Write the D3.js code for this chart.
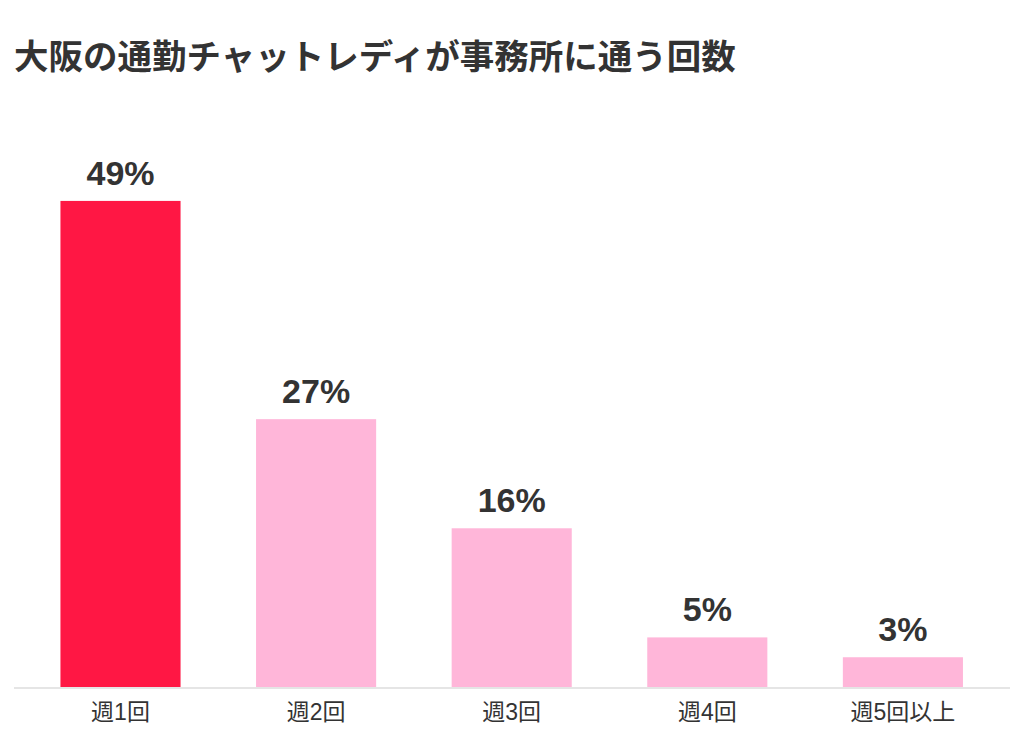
<!DOCTYPE html>
<html>
<head>
<meta charset="utf-8">
<script src="https://cdn.jsdelivr.net/npm/d3@7"></script>
<style>
  body { margin: 0; background: #fff; }
</style>
</head>
<body>
<svg id="chart" width="1024" height="740"></svg>
<script>
// données
const categories = ["週1回", "週2回", "週3回", "週4回", "週5回以上"]
const values = [49, 27, 16, 5, 3]
const labels = ["49%", "27%", "16%", "5%", "3%"]
const highlight = "週1回"

const baseline = 687

const svg = d3.select("#chart")

// titre
svg.append("text")
  .attr("x", 14)
  .attr("y", 69)
  .style("font-family", "'Noto Sans CJK JP', sans-serif")
  .style("font-weight", "bold")
  .style("font-size", "34.5px")
  .style("fill", "#333")
  .text("大阪の通勤チャットレディが事務所に通う回数")

const x = d3.scaleBand()
  .domain(categories)
  .range([22.7, 1000.7])
  .paddingInner(0.386)
  .paddingOuter(0.193)

const y = d3.scaleLinear()
  .domain([0, 50])
  .range([baseline, baseline - 496])

// barres
svg.append("g")
  .selectAll("rect")
  .data(categories)
  .enter()
  .append("rect")
  .attr("x", d => x(d))
  .attr("width", x.bandwidth())
  .attr("y", (d, i) => y(values[i]))
  .attr("height", (d, i) => baseline - y(values[i]))
  .style("fill", d => d === highlight ? "#ff1744" : "#ffb6d9")

// valeurs
svg.append("g")
  .selectAll("text")
  .data(categories)
  .enter()
  .append("text")
  .attr("x", d => x(d) + x.bandwidth() / 2)
  .attr("y", (d, i) => y(values[i]) - 16)
  .attr("text-anchor", "middle")
  .style("font-family", "'Liberation Sans', Arial, sans-serif")
  .style("font-weight", "bold")
  .style("font-size", "34px")
  .style("fill", "#333")
  .text((d, i) => labels[i])

// axe
const axis = svg.append("g")
  .attr("transform", "translate(0," + baseline + ")")
  .call(d3.axisBottom(x).tickSize(0).tickPadding(0))

axis.select(".domain").remove()

axis.append("line")
  .attr("x1", 14)
  .attr("x2", 1010)
  .attr("y1", 1)
  .attr("y2", 1)
  .style("stroke", "#dddddd")
  .style("stroke-width", 1.5)

axis.selectAll(".tick text")
  .attr("y", 33)
  .attr("dy", null)
  .style("font-family", "'Liberation Sans', 'Noto Sans CJK JP', sans-serif")
  .style("font-size", "23px")
  .style("fill", "#333")
</script>
</body>
</html>
